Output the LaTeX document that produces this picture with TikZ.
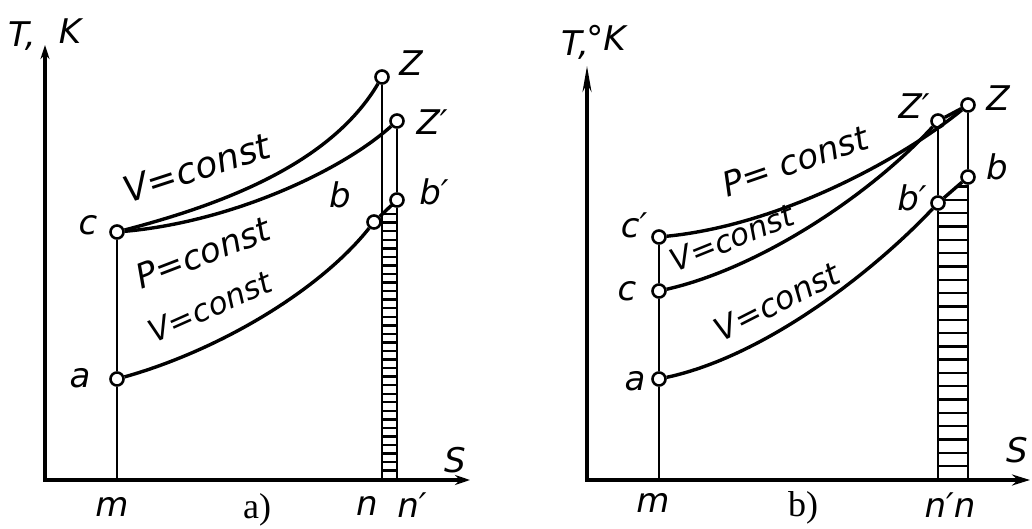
\documentclass[tikz,border=0pt]{standalone}
\usepackage{fontspec}
\usetikzlibrary{arrows.meta}
\newfontfamily\handfont{DejaVu Sans}
\newfontfamily\capfont{Liberation Serif}
\tikzset{
  axisline/.style={line width=3.2pt},
  curve/.style={line width=3.4pt},
  vline/.style={line width=2.8pt},
  hatchline/.style={line width=2.4pt},
  pt/.style={circle, draw, fill=white, line width=2.6pt, inner sep=0pt, minimum size=13pt},
  lbl/.style={font=\handfont\itshape\fontsize{34}{36}\selectfont, inner sep=0pt},
  rlbl/.style={font=\handfont\itshape\fontsize{#1}{#1}\selectfont, inner sep=0pt},
  caplbl/.style={font=\capfont\fontsize{36}{40}\selectfont, inner sep=0pt},
}
\begin{document}
\begin{tikzpicture}[x=1pt,y=-1pt]
\useasboundingbox (0,0) rectangle (1032,529);

% ---------- diagram a) ----------
\coordinate (aO) at (45,480);
\coordinate (aT) at (45,45);
\coordinate (aS) at (470,480);
\coordinate (am) at (117,480);
\coordinate (an) at (382,480);
\coordinate (anp) at (397,480);

% hatching a
\begin{scope}
  \clip (382,480) -- (382,213) -- (397,199) -- (397,480) -- cycle;
  \foreach \k in {0,...,31} {
    \draw[hatchline] (380,205.6+8.55*\k) -- (399,205.6+8.55*\k);
  }
\end{scope}

\draw[axisline,-{Stealth[length=14pt,width=9pt]}] (aO) -- (aT);
\draw[axisline,-{Stealth[length=15pt,width=10pt]}] (43,480) -- (aS);

\node[pt] (ac) at (117,232) {};
\node[pt] (ao) at (117,379) {};
\node[pt] (az) at (382,77) {};
\node[pt] (azp) at (397,121) {};
\node[pt] (ab) at (374,222) {};
\node[pt] (abp) at (397,200) {};

\draw[vline] (am) -- (ao);
\draw[vline] (ao) -- (ac);
\draw[vline] (an) -- (az);
\draw[vline] (anp) -- (abp);
\draw[vline] (abp) -- (azp);

\draw[curve] (ac) .. controls (220,205) and (330,165) .. (az);
\draw[curve] (ac) .. controls (230,222) and (340,172) .. (azp);
\draw[curve] (ao) .. controls (220,350) and (320,290) .. (ab);
\draw[curve] (ab) -- (abp);

\node[lbl] (aTl) at (22,36) {T,};
\node[lbl] (aKl) at (70,31) {K};
\node[lbl] (aZl) at (411,63) {Z};
\node[lbl] (aZpl) at (432,122) {Z′};
\node[lbl] (abpl) at (434,192) {b′};
\node[lbl] (abl) at (340,195) {b};
\node[lbl] (acl) at (88,225) {c};
\node[lbl] (aol) at (80,378) {a};
\node[lbl] (asl) at (455,460) {S};
\node[lbl] (aml) at (112,507) {m};
\node[caplbl] (acap) at (257,510) {a)};
\node[lbl] (anl) at (367,506) {n};
\node[lbl] (anpl) at (412,505) {n′};

\node[rlbl=36, rotate=18] (av1) at (197,168) {V=const};
\node[rlbl=34, rotate=21] (ap1) at (203,253) {P=const};
\node[rlbl=31, rotate=24] (av2) at (210,307) {V=const};

% ---------- diagram b) ----------
\coordinate (bO) at (587,480);
\coordinate (bT) at (587,66);
\coordinate (bS) at (1030,480);
\coordinate (bm) at (659,480);
\coordinate (bnp) at (938,480);
\coordinate (bn) at (968,480);

% hatching b
\begin{scope}
  \clip (938,480) -- (938,203) -- (968,177) -- (968,480) -- cycle;
  \foreach \k in {-3,...,19} {
    \draw[hatchline] (936,213.3+13.3*\k) -- (970,213.3+13.3*\k);
  }
\end{scope}

\draw[axisline,-{Stealth[length=26pt,width=9pt]}] (bO) -- (bT);
\draw[axisline,-{Stealth[length=18pt,width=11pt]}] (585,480) -- (bS);

\node[pt] (bcp) at (659,237) {};
\node[pt] (bc) at (659,291) {};
\node[pt] (bo) at (659,379) {};
\node[pt] (bzp) at (938,121) {};
\node[pt] (bz) at (968,105) {};
\node[pt] (bb) at (968,177) {};
\node[pt] (bbp) at (938,203) {};

\draw[vline] (bm) -- (bo);
\draw[vline] (bo) -- (bc);
\draw[vline] (bc) -- (bcp);
\draw[vline] (bnp) -- (bbp);
\draw[vline] (bbp) -- (bzp);
\draw[vline] (bn) -- (bb);
\draw[vline] (bb) -- (bz);

\draw[curve] (bcp) .. controls (780,225) and (900,160) .. (bz);
\draw[curve] (bc) .. controls (760,268) and (870,195) .. (bzp);
\draw[curve] (bzp) -- (bz);
\draw[curve] (bo) .. controls (770,355) and (880,265) .. (bbp);
\draw[curve] (bbp) -- (bb);

\node[lbl] (bTl) at (575,45) {T,};
\node[lbl] (bKl) at (606,38) {°K};
\node[lbl] (bzpl) at (914,106) {Z′};
\node[lbl] (bzl) at (998,98) {Z};
\node[lbl] (bbl) at (997,167) {b};
\node[lbl] (bbpl) at (912,198) {b′};
\node[lbl] (bcpl) at (634,225) {c′};
\node[lbl] (bcl) at (627,291) {c};
\node[lbl] (bol) at (635,381) {a};
\node[lbl] (bsl) at (1017,450) {S};
\node[lbl] (bml) at (653,503) {m};
\node[caplbl] (bcap) at (803,508) {b)};
\node[lbl] (bnl) at (950,505) {n′n};

\node[rlbl=34, rotate=19] (bp1) at (795,161) {P= const};
\node[rlbl=31, rotate=22] (bv1) at (732,238) {V=const};
\node[rlbl=32, rotate=27] (bv2) at (777,302) {V=const};
\end{tikzpicture}
\end{document}
